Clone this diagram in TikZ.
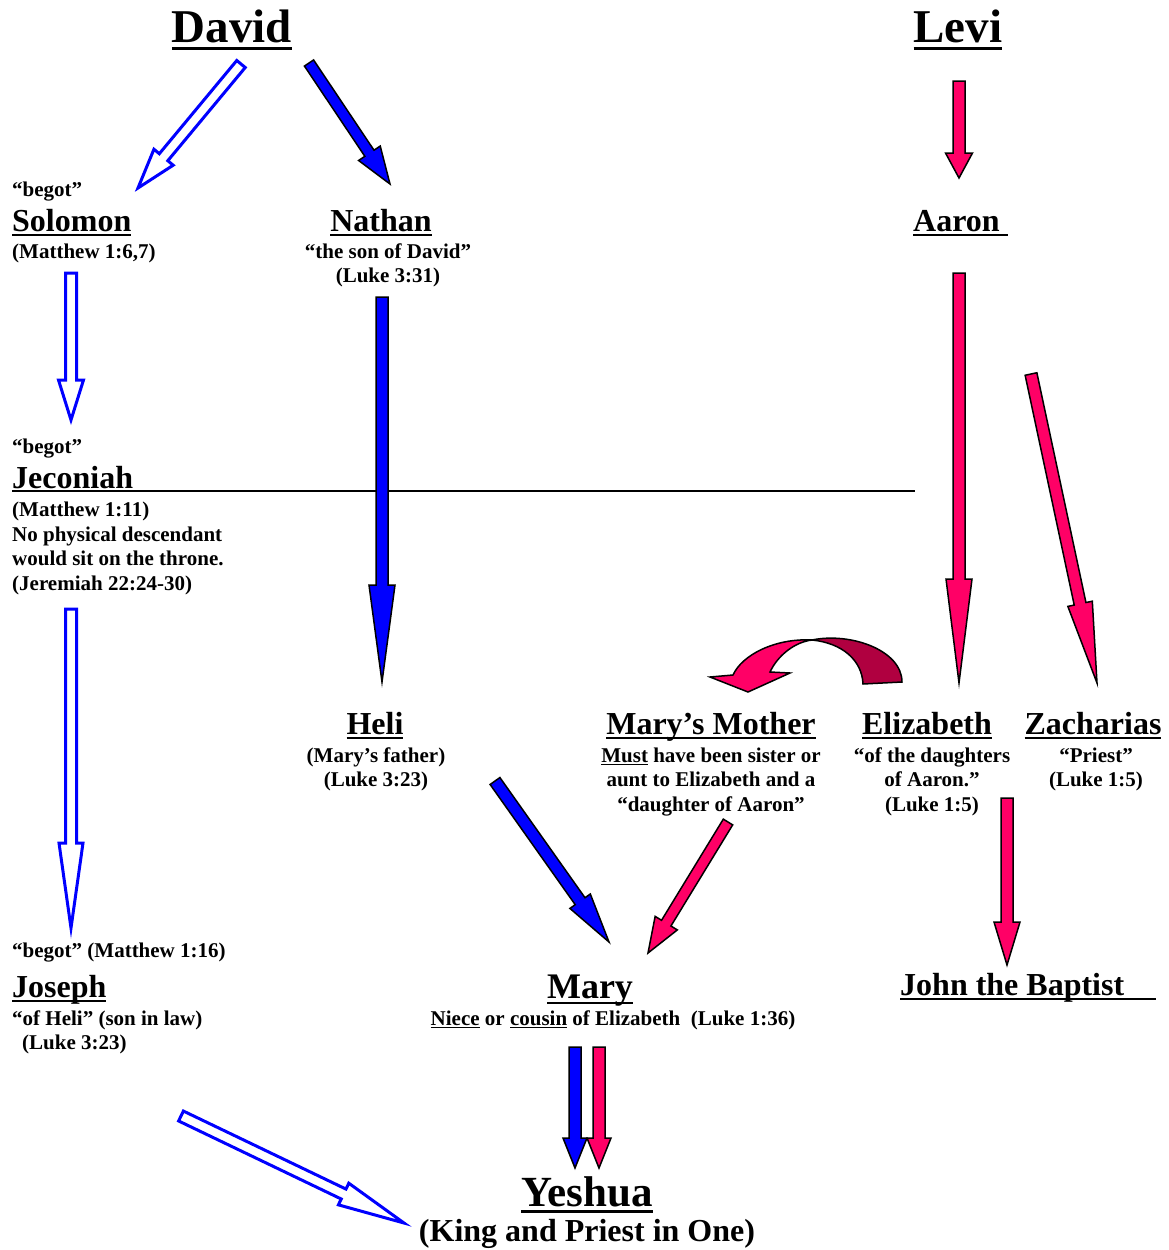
\documentclass[tikz,border=0pt]{standalone}
\usepackage{fontspec}
\setmainfont{Liberation Serif}
\usetikzlibrary{calc}

\definecolor{levired}{RGB}{255,0,102}
\definecolor{levidark}{RGB}{176,0,64}

\newcommand{\ul}[1]{{\setbox0=\hbox{#1}\rlap{\rule[-0.16em]{\wd0}{0.06em}}\box0}}

% block arrow: style, tail, tip, half shaft, half head, head length
\newcommand{\fatarrow}[6]{%
  \coordinate (hb) at ($(#3)!#6!(#2)$);
  \path[#1] ($(#2)!#4!90:(#3)$) -- ($(hb)!#4!90:(#3)$) -- ($(hb)!#5!90:(#3)$) -- (#3)
    -- ($(hb)!#5!-90:(#3)$) -- ($(hb)!#4!-90:(#3)$) -- ($(#2)!#4!-90:(#3)$) -- cycle;
}

\tikzstyle{bigperson}=[font=\fontsize{47}{52}\selectfont\bfseries,inner sep=0pt,anchor=base]
\tikzstyle{person}=[font=\fontsize{32}{36}\selectfont\bfseries,inner sep=0pt,anchor=base]
\tikzstyle{verse}=[font=\fontsize{21}{24.5}\selectfont\bfseries,inner sep=0pt,anchor=base,align=center]
\tikzstyle{leftverse}=[verse,anchor=base west,align=left]
\tikzstyle{hollow}=[draw=blue,fill=white,line width=3pt]
\tikzstyle{royal}=[draw=black,fill=blue,line width=1.5pt]
\tikzstyle{priestly}=[draw=black,fill=levired,line width=1.5pt]
\tikzstyle{backside}=[draw=black,fill=levidark,line width=1.5pt]
\tikzstyle{throne}=[draw=black,line width=2pt]

\begin{document}
\begin{tikzpicture}[x=1pt,y=-1pt]
  \useasboundingbox (0,0) rectangle (1168,1250);

  % kings (multi-line notes sit on their last baseline)
  \node[bigperson] (david) at (232,42) {\ul{David}};
  \node[leftverse] (solbegot) at (12,196) {“begot”};
  \node[person,anchor=base west] (solomon) at (12,231) {\ul{Solomon}};
  \node[leftverse] (solref) at (12,258) {(Matthew 1:6,7)};
  \node[person] (nathan) at (381,231) {\ul{Nathan}};
  \node[verse] (nathanref) at (388,282.5) {“the son of David”\\(Luke 3:31)};
  \node[leftverse] (jecbegot) at (12,453) {“begot”};
  \node[person,anchor=base west] (jeconiah) at (12,488) {Jeconiah};
  \node[leftverse] (jecref) at (12,590) {(Matthew 1:11)\\No physical descendant\\would sit on the throne.\\(Jeremiah 22:24-30)};
  \node[person] (heli) at (375,734) {\ul{Heli}};
  \node[verse] (heliref) at (376,786.5) {(Mary’s father)\\(Luke 3:23)};
  \node[leftverse] (josbegot) at (12,957) {“begot” (Matthew 1:16)};
  \node[person,anchor=base west] (joseph) at (12,997) {\ul{Joseph}};
  \node[leftverse] (josref) at (12,1049.5) {“of Heli” (son in law)\\\hspace*{10pt}(Luke 3:23)};

  % priests
  \node[bigperson] (levi) at (958,42) {\ul{Levi}};
  \node[person,anchor=base west] (aaron) at (913,231) {\ul{Aaron~}};
  \node[person] (mother) at (711,734) {\ul{Mary’s Mother}};
  \node[verse] (motherref) at (711,811) {\ul{Must} have been sister or\\aunt to Elizabeth and a\\“daughter of Aaron”};
  \node[person] (elizabeth) at (927,734) {\ul{Elizabeth}};
  \node[verse] (elizref) at (932,811) {“of the daughters\\of Aaron.”\\(Luke 1:5)};
  \node[person] (zacharias) at (1093,734) {\ul{Zacharias}};
  \node[verse] (zachref) at (1096,786.5) {“Priest”\\(Luke 1:5)};
  \node[person,anchor=base west] (john) at (900,995) {\ul{John the Baptist~~~~}};

  % mary and yeshua
  \node[person,font=\fontsize{36}{40}\selectfont\bfseries] (mary) at (590,998) {\ul{Mary}};
  \node[verse] (maryref) at (613,1025) {\ul{Niece} or \ul{cousin} of Elizabeth\ \ (Luke 1:36)};
  \node[person,font=\fontsize{43}{48}\selectfont\bfseries] (yeshua) at (587,1206) {\ul{Yeshua}};
  \node[person] (yeshuaref) at (587,1241) {(King and Priest in One)};

  % line of the throne
  \coordinate (thronecut) at (915,491);
  \draw[throne] (jeconiah.base west |- thronecut) -- (thronecut);

  % arrow ends
  \coordinate (dsT) at (241,64);   \coordinate (dsH) at (138,188);
  \coordinate (dnT) at (309,63);   \coordinate (dnH) at (390,184);
  \coordinate (sjT) at (71,273);   \coordinate (sjH) at (71,420);
  \coordinate (jjT) at (71,609);   \coordinate (jjH) at (71,928);
  \coordinate (jyT) at (181,1116); \coordinate (jyH) at (404,1223);
  \coordinate (nhT) at (382,297);  \coordinate (nhH) at (382,682);
  \coordinate (hmT) at (495,781);  \coordinate (hmH) at (609,942);
  \coordinate (laT) at (959,81);   \coordinate (laH) at (959,178);
  \coordinate (aeT) at (959,273);  \coordinate (aeH) at (959,683);
  \coordinate (azT) at (1031,374); \coordinate (azH) at (1097,683);
  \coordinate (mmT) at (728,822);  \coordinate (mmH) at (648,953);
  \coordinate (ejT) at (1007,798); \coordinate (ejH) at (1007,965);
  \coordinate (ybT) at (575,1047); \coordinate (ybH) at (575,1168);
  \coordinate (yrT) at (599,1047); \coordinate (yrH) at (599,1168);

  \fatarrow{hollow}{dsT}{dsH}{5.5pt}{12.5pt}{40pt}
  \fatarrow{royal}{dnT}{dnH}{5.5pt}{13pt}{37pt}
  \fatarrow{hollow}{sjT}{sjH}{5.5pt}{12.5pt}{40pt}
  \fatarrow{hollow}{jjT}{jjH}{5.5pt}{12pt}{85pt}
  \fatarrow{hollow}{jyT}{jyH}{5.5pt}{12pt}{67pt}
  \fatarrow{royal}{nhT}{nhH}{6pt}{13pt}{97pt}
  \fatarrow{royal}{hmT}{hmH}{6pt}{12.5pt}{50pt}
  \fatarrow{priestly}{laT}{laH}{6pt}{13.5pt}{25pt}
  \fatarrow{priestly}{aeT}{aeH}{6pt}{13pt}{104pt}
  \fatarrow{priestly}{azT}{azH}{6pt}{12.5pt}{81pt}
  \fatarrow{priestly}{mmT}{mmH}{5.5pt}{13pt}{35pt}
  \fatarrow{priestly}{ejT}{ejH}{6pt}{13pt}{43pt}
  \fatarrow{royal}{ybT}{ybH}{6pt}{12pt}{30pt}
  \fatarrow{priestly}{yrT}{yrH}{6pt}{12pt}{30pt}

  % elizabeth to mary's mother
  \path[backside] (812,640) .. controls (850,632) and (902,650) .. (902,682) -- (863,684)
    .. controls (862,660) and (842,643) .. (812,640) -- cycle;
  \path[priestly] (812,640) .. controls (775,638) and (742,655) .. (733,675) -- (710,677)
    -- (748,692) -- (790,673) -- (770,672) .. controls (778,655) and (795,642) .. (812,640) -- cycle;
\end{tikzpicture}
\end{document}
